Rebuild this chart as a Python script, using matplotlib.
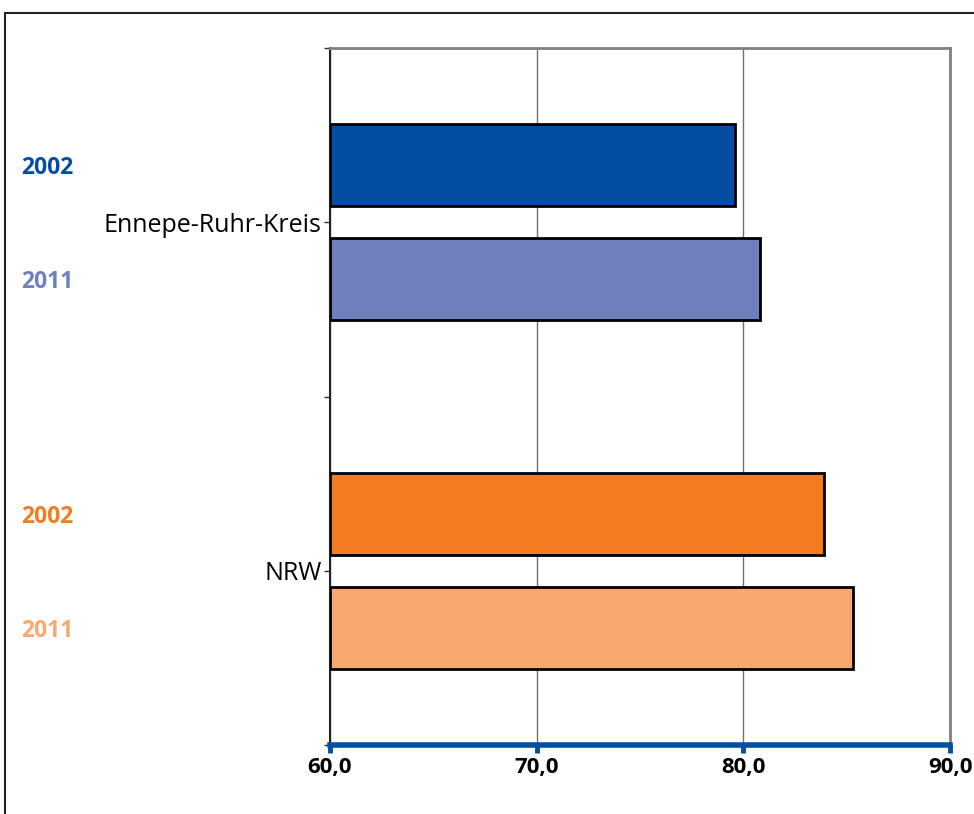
import matplotlib
matplotlib.use("Agg")
import matplotlib.pyplot as plt
from matplotlib.patches import Rectangle

categories = ["Ennepe-Ruhr-Kreis", "NRW"]
years = ["2002", "2011"]
values_2002 = [79.6, 83.9]
values_2011 = [80.8, 85.3]
x_ticks = [60, 70, 80, 90]
x_tick_labels = ["60,0", "70,0", "80,0", "90,0"]

colors_2002 = ["#034EA2", "#F47B20"]
colors_2011 = ["#6F80BE", "#F9A870"]

plt.rcParams['font.family'] = ['Open Sans', 'DejaVu Sans']

fig = plt.figure(figsize=(9.74, 8.14), dpi=100)
ax = fig.add_axes([330/974, 1-745/814, (950-330)/974, (745-48)/814])

xmin = 60
centers = [0.5, 1.5]
h = 0.235
off = 0.163
for i, c in enumerate(centers):
    ax.barh(c - off, values_2002[i] - xmin, left=xmin, height=h,
            color=colors_2002[i], edgecolor="black", linewidth=2, zorder=3)
    ax.barh(c + off, values_2011[i] - xmin, left=xmin, height=h,
            color=colors_2011[i], edgecolor="black", linewidth=2, zorder=3)
    # year labels on the left
    for yr, yc, col in [(years[0], c - off, colors_2002[i]), (years[1], c + off, colors_2011[i])]:
        ax.annotate(yr, xy=(0, yc), xycoords=("figure fraction", "data"),
                    xytext=(21, -3), textcoords="offset pixels",
                    ha="left", va="center", fontsize=16.5, fontweight="bold", color=col)

ax.set_xlim(60, 90)
ax.set_ylim(2, 0)
ax.set_xticks(x_ticks)
ax.set_xticklabels(x_tick_labels, fontsize=16, fontweight="bold")
ax.set_yticks(centers)
ax.set_yticklabels(categories, fontsize=18)
ax.set_yticks([0, 1, 2], minor=True)
ax.tick_params(axis="y", which="both", length=4, width=1, color="#333333", pad=2)
ax.tick_params(axis="x", length=6, width=3.5, color="#0050A0", direction="out", pad=3)

ax.grid(axis="x", color="#707070", linewidth=1, zorder=0)
ax.set_axisbelow(True)
ax.spines["bottom"].set_color("#0050A0")
ax.spines["bottom"].set_linewidth(4)
ax.spines["bottom"].set_zorder(5)
ax.spines["left"].set_color("#222222")
ax.spines["left"].set_linewidth(1.5)
ax.spines["top"].set_color("#808080")
ax.spines["top"].set_linewidth(2)
ax.spines["right"].set_color("#808080")
ax.spines["right"].set_linewidth(2)

# outer chart frame
fig.patches.append(Rectangle((5/974, -0.05), 1.2, 1 - 13/814 + 0.05, transform=fig.transFigure,
                             fill=False, edgecolor="#222222", linewidth=1.5))

fig.savefig("out.png", dpi=100)
